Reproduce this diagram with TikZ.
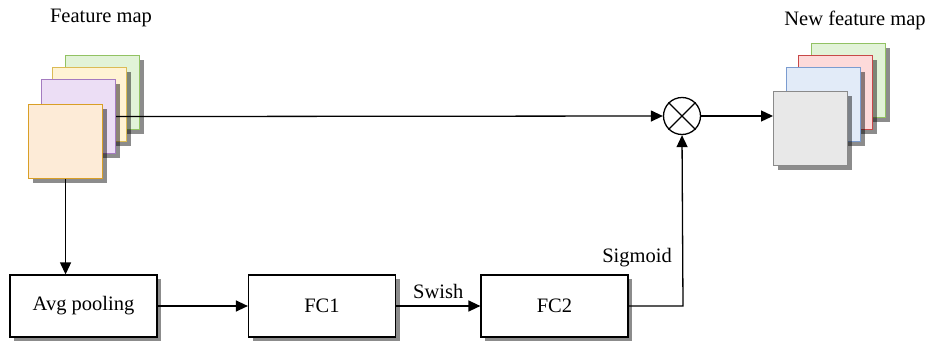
\documentclass[tikz,border=0pt]{standalone}
\usepackage{fontspec}
\setmainfont{Liberation Serif}
\usetikzlibrary{arrows.meta,shadows}

\definecolor{grnfill}{HTML}{E2F3D8}\definecolor{grnline}{HTML}{92C263}
\definecolor{ylwfill}{HTML}{FFF3D4}\definecolor{ylwline}{HTML}{DBBB55}
\definecolor{prpfill}{HTML}{ECDEF5}\definecolor{prpline}{HTML}{A47BC0}
\definecolor{orgfill}{HTML}{FDEBD7}\definecolor{orgline}{HTML}{D99F26}
\definecolor{redfill}{HTML}{FDDADA}\definecolor{redline}{HTML}{C84848}
\definecolor{blufill}{HTML}{E2EBF8}\definecolor{bluline}{HTML}{7B9CD0}
\definecolor{gryfill}{HTML}{E8E8E8}\definecolor{gryline}{HTML}{8A8A8A}

\tikzset{
  every node/.style={font=\fontsize{20.5}{24}\selectfont},
  layer/.style={rectangle, anchor=north west, inner sep=0pt,
    minimum width=74pt, minimum height=74pt, line width=1.1pt,
    drop shadow={shadow xshift=4pt, shadow yshift=-4pt, fill=black, opacity=0.45}},
  block/.style={rectangle, draw, fill=white, line width=1.2pt,
    minimum width=147pt, minimum height=62pt, inner sep=0pt,
    drop shadow={shadow xshift=4pt, shadow yshift=-4pt, fill=black, opacity=0.45}},
  conn/.style={line width=1.3pt, -{Triangle[length=12pt,width=11pt]}},
}

\begin{document}
\begin{tikzpicture}[x=1pt,y=-1pt]
\useasboundingbox (0,0) rectangle (925,340);

% input feature map stack
\node[layer, draw=grnline, fill=grnfill] (in1) at (65,55) {};
\node[layer, draw=ylwline, fill=ylwfill] (in2) at (52,67) {};
\node[layer, draw=prpline, fill=prpfill] (in3) at (41,79) {};
\node[layer, draw=orgline, fill=orgfill] (in4) at (28,104) {};
\node (inlbl) at (101,18) {Feature map};

% output feature map stack
\node[layer, draw=grnline, fill=grnfill] (out1) at (811,43) {};
\node[layer, draw=redline, fill=redfill] (out2) at (798,55) {};
\node[layer, draw=bluline, fill=blufill] (out3) at (786,67) {};
\node[layer, draw=gryline, fill=gryfill] (out4) at (773,91) {};
\node (outlbl) at (855,20) {New feature map};

% multiplication node with its cross
\node[circle, draw, line width=1.3pt, minimum size=37pt, inner sep=0pt] (mul) at (682,116) {};
\draw[line width=1.3pt] (mul.north west) -- (mul.south east)
                        (mul.north east) -- (mul.south west);

% excitation branch
\node[block] (avg) at (83.5,306) {Avg pooling};
\node[block] (fc1) at (322,306) {FC1};
\node[block] (fc2) at (554.5,306) {FC2};

% connectors
\draw[conn] (in3.east) -- (mul.west);
\draw[conn] (mul.east) -- (out4.west |- mul.east);
\draw[conn] (in4.south) -- (in4.south |- avg.north);
\draw[conn] (avg) -- (fc1);
\draw[conn] (fc1) -- node[above=3pt] (swish) {Swish} (fc2);
\coordinate (bend) at (683,306);
\draw[conn] (fc2.east) -- (bend) -- (mul.south);
\node (sig) at (637,258) {Sigmoid};
\end{tikzpicture}
\end{document}
